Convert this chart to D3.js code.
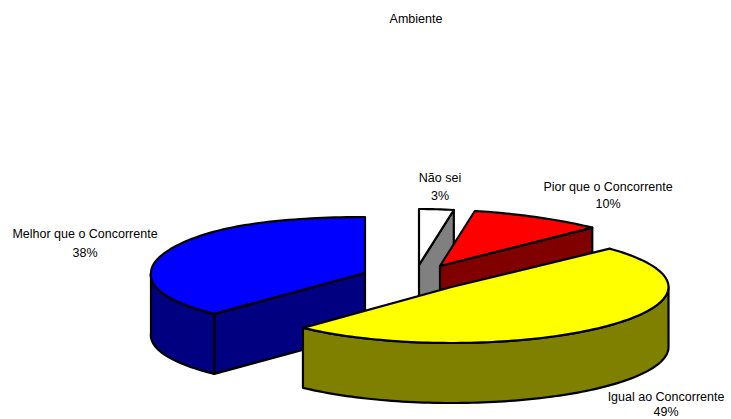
<!DOCTYPE html>
<html>
<head>
<meta charset="utf-8">
<script src="https://cdn.jsdelivr.net/npm/d3@7"></script>
<style>
  html, body { margin: 0; padding: 0; background: #fff; }
  svg { display: block; }
  text { font-family: "Liberation Sans", Arial, sans-serif; font-size: 12.5px; fill: #000; }
</style>
</head>
<body>
<svg id="chart" width="731" height="419"></svg>
<script>
// Slice data, clockwise from twelve o'clock
const chartTitle = "Ambiente";
const categories = ["Não sei", "Pior que o Concorrente", "Igual ao Concorrente", "Melhor que o Concorrente"];
const values = [3, 10, 49, 38];

// Per-slice appearance
const topColors = ["#ffffff", "#ff0000", "#ffff00", "#0000ff"];
const sideColors = ["#808080", "#800000", "#808000", "#000080"];

// Exploded slice apex positions, horizontal radii and perspective correction
const apexX = [419, 440, 451.5, 365];
const apexY = [265, 266, 287, 273];
const radiiX = [216, 216, 217, 214];
const backTaper = [0.15, 0.15, 0, -0.15];
const frontFlare = [0, 0, 0, 0.04];

// Label anchors: name baseline and percentage baseline
const labelX = [440, 608, 666, 85];
const nameY = [182, 191, 401, 238];
const percentY = [200, 208, 416, 257];

const radiusY = 56;
const depth = 60;

const svg = d3.select("#chart");
const arcs = d3.pie().sort(null)(values);
const line = d3.line();

const point = (i, a, dy = 0) => {
  const c = Math.cos(a);
  const scale = 1 - backTaper[i] * Math.pow(Math.max(0, c), 4) + frontFlare[i] * Math.max(0, -c);
  return [
    apexX[i] + radiiX[i] * scale * Math.sin(a),
    apexY[i] - radiusY * c + dy
  ];
};
const sample = (i, a0, a1, dy = 0) => {
  const steps = Math.max(2, Math.ceil(Math.abs(a1 - a0) * 40));
  return d3.range(steps + 1).map(k => point(i, a0 + (a1 - a0) * k / steps, dy));
};
const draw = (pts, fill) => {
  svg.append("path")
    .attr("d", line(pts) + "Z")
    .attr("fill", fill)
    .attr("stroke", "#000")
    .attr("stroke-width", 2.2)
    .attr("stroke-linejoin", "round");
};

// Back slices first so the nearer ones cover them
[0, 1, 3, 2].forEach(i => {
  const { startAngle: a0, endAngle: a1 } = arcs[i];
  const apex = [apexX[i], apexY[i]];
  const lower = ([x, y]) => [x, y + depth];

  // Cut face running from the apex to the arc's end that faces the viewer
  if (Math.cos(a0) > 0 && a1 < Math.PI) {
    const e = point(i, a1);
    draw([apex, e, lower(e), lower(apex)], sideColors[i]);
  }
  if (a0 > Math.PI) {
    const e = point(i, a0);
    draw([apex, e, lower(e), lower(apex)], sideColors[i]);
  }

  // Outer wall along the front half of the ellipse
  const w0 = Math.max(a0, Math.PI / 2);
  const w1 = Math.min(a1, 3 * Math.PI / 2);
  if (w1 > w0) {
    draw(sample(i, w0, w1).concat(sample(i, w1, w0, depth)), sideColors[i]);
  }

  // Top surface
  draw([apex].concat(sample(i, a0, a1)), topColors[i]);
});

// Slice labels: category name above its percentage
categories.forEach((name, i) => {
  const t = svg.append("text").attr("text-anchor", "middle");
  t.append("tspan").attr("x", labelX[i]).attr("y", nameY[i]).text(name);
  t.append("tspan").attr("x", labelX[i]).attr("y", percentY[i]).text(values[i] + "%");
});

svg.append("text").attr("x", 416).attr("y", 23).attr("text-anchor", "middle").text(chartTitle);
</script>
</body>
</html>
